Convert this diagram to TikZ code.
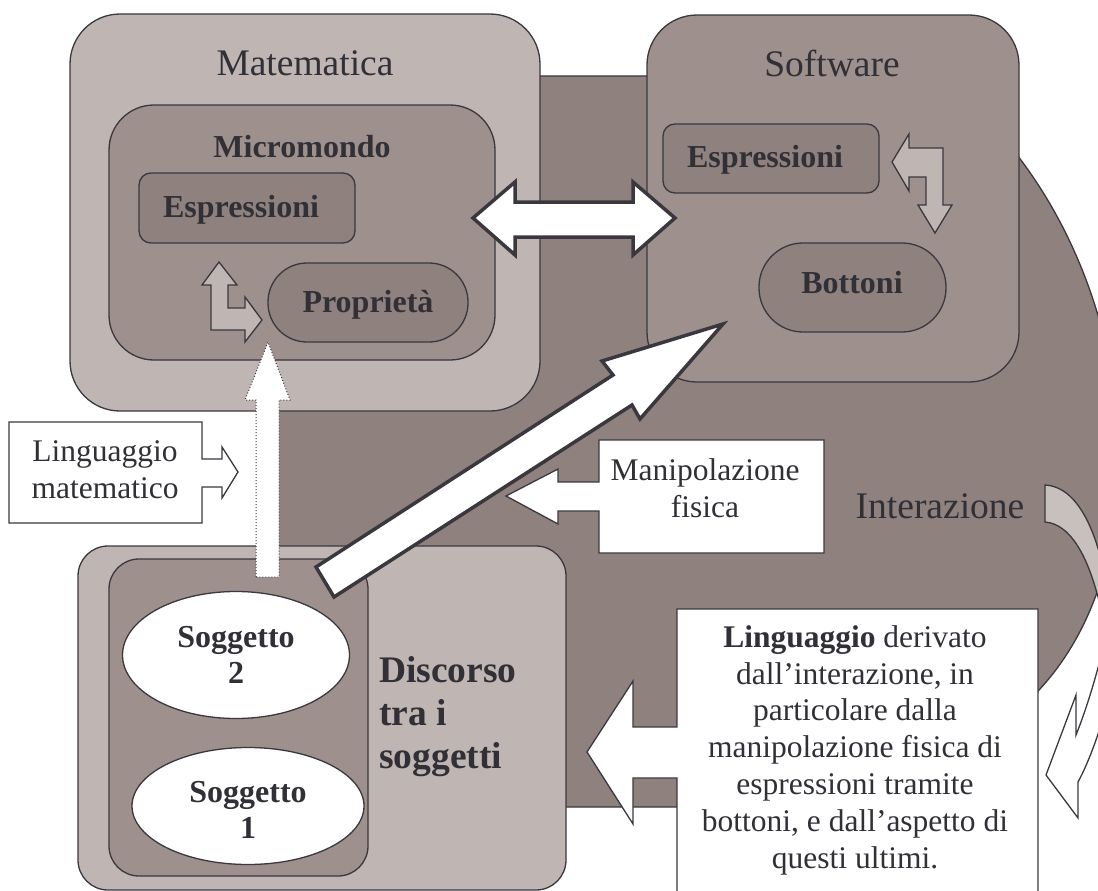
\documentclass[tikz,border=0pt]{standalone}
\usepackage{fontspec}
\setmainfont{Liberation Serif}
\usetikzlibrary{shapes.geometric}
\definecolor{lightc}{RGB}{191,181,178}
\definecolor{midc}{RGB}{158,144,140}
\definecolor{darkc}{RGB}{142,129,126}
\definecolor{bandc}{RGB}{200,192,189}
\definecolor{bordc}{RGB}{58,56,62}
\definecolor{textc}{RGB}{50,48,55}
\tikzset{
  panel/.style={draw=bordc, line width=1.3pt, rounded corners=#1, inner sep=0pt},
  bubble/.style={ellipse, draw=bordc, line width=1.3pt, fill=white, inner sep=0pt},
  thinshape/.style={draw=bordc, line width=1.3pt, line join=miter},
  fatarrow/.style={draw=bordc, line width=3.5pt, fill=white, line join=miter},
  head/.style={text=textc, inner sep=0pt, anchor=base, font=\fontsize{37.5}{44}\selectfont},
  boldlab/.style={text=textc, inner sep=0pt, anchor=base, font=\fontsize{32}{36}\selectfont\bfseries},
  body/.style={text=textc, inner sep=0pt, anchor=base, align=center, font=\fontsize{31.5}{36.8}\selectfont},
}
\begin{document}
\begin{tikzpicture}[x=1pt,y=-1pt]
\useasboundingbox (0,0) rectangle (1098,891);

% background interaction region
\fill[darkc, draw=bordc, line width=1.3pt] (270,807) -- (270,76) -- (950,76)
  .. controls (975,80) and (995,110) .. (1005,140)
  .. controls (1140,300) and (1160,560) .. (1039,690)
  .. controls (1020,720) and (1000,790) .. (960,807) -- cycle;

% Matematica
\node[panel=50pt, fill=lightc, minimum width=470pt, minimum height=397pt] (mat) at (305,212.5) {};
\node[panel=45pt, fill=midc, minimum width=386pt, minimum height=255pt] (micro) at (302,232.5) {};
\node[panel=12pt, fill=darkc, minimum width=216pt, minimum height=70pt] (espL) at (247,208) {};
\node[panel=39pt, fill=darkc, minimum width=200pt, minimum height=79pt] (prop) at (368,302.5) {};
\filldraw[thinshape, fill=lightc] (219,262) -- (237,285) -- (228,285) -- (228,308) -- (245,308)
  -- (245,297) -- (262,320) -- (245,342) -- (245,330) -- (211,330) -- (211,285) -- (202,285) -- cycle;

% Software
\node[panel=50pt, fill=midc, minimum width=372pt, minimum height=367pt] (soft) at (833,198.5) {};
\node[panel=12pt, fill=darkc, minimum width=216pt, minimum height=69pt] (espR) at (771,158.5) {};
\node[panel=44pt, fill=darkc, minimum width=187pt, minimum height=89pt] (bott) at (852.5,287.5) {};
\filldraw[thinshape, fill=lightc] (892,162) -- (909,134) -- (909,148) -- (943,148) -- (943,205)
  -- (952,205) -- (935,233) -- (918,205) -- (926,205) -- (926,177) -- (909,177) -- (909,191) -- cycle;

% double arrow Matematica <-> Software
\filldraw[fatarrow] (473,218) -- (515,182) -- (515,202) -- (633,202) -- (633,182) -- (675,218)
  -- (633,255) -- (633,237) -- (515,237) -- (515,255) -- cycle;

% Discorso
\node[panel=30pt, fill=lightc, minimum width=488pt, minimum height=344pt] (disc) at (322,718) {};
\node[panel=30pt, fill=midc, minimum width=259pt, minimum height=317pt] (discin) at (238.5,717.5) {};
\node[bubble, minimum width=227pt, minimum height=127pt] (sog2) at (236,655) {};
\node[bubble, minimum width=232pt, minimum height=117pt] (sog1) at (248,806) {};

% callouts
\filldraw[thinshape, fill=white] (9,422) -- (202,422) -- (202,459) -- (222,459) -- (222,447) -- (238,472)
  -- (222,498) -- (222,487) -- (202,487) -- (202,523) -- (9,523) -- cycle;
\filldraw[thinshape, fill=white] (599,440) -- (824,440) -- (824,553) -- (599,553) -- (599,511) -- (558,511)
  -- (558,524) -- (506,496) -- (558,469) -- (558,482) -- (599,482) -- cycle;
\filldraw[thinshape, fill=white] (677,609) -- (1038,609) -- (1038,900) -- (677,900) -- (677,778) -- (633,778)
  -- (633,824) -- (587,752) -- (633,681) -- (633,727) -- (677,727) -- cycle;

% Interazione curved arrow
\filldraw[thinshape, fill=bandc] (1045,485) .. controls (1078,487) and (1098,530) .. (1110,600)
  -- (1100,605) .. controls (1088,555) and (1070,524) .. (1045,522) -- cycle;
\filldraw[thinshape, fill=white] (1046,775) -- (1076,695) -- (1076,735)
  .. controls (1088,705) and (1098,670) .. (1105,640) -- (1112,690)
  .. controls (1100,730) and (1090,760) .. (1078,782) -- (1078,818) -- cycle;

% diagonal arrow Discorso -> Software
\filldraw[fatarrow] (316,567) -- (613,375) -- (602,361) -- (723,324) -- (640,419) -- (632,405) -- (334,597) -- cycle;

% dotted arrow Discorso -> Matematica
\filldraw[draw=bordc, fill=white, line width=1pt, dotted] (256,577) -- (256,400) -- (245,400) -- (268,342)
  -- (290,400) -- (279,400) -- (279,577) -- cycle;

% texts (multi-line nodes: base = baseline of last line)
\node[head] (tmat) at (305,75) {Matematica};
\node[head] (tsoft) at (832,77) {Software};
\node[head] (tint) at (940,518) {Interazione};
\node[boldlab] (tmicro) at (302,157) {Micromondo};
\node[boldlab] (tespL) at (241,217) {Espressioni};
\node[boldlab] (tespR) at (765,167) {Espressioni};
\node[boldlab] (tprop) at (368,312) {Proprietà};
\node[boldlab] (tbott) at (852,293) {Bottoni};
\node[boldlab, align=center] (tsog2) at (236,683) {Soggetto\\2};
\node[boldlab, align=center] (tsog1) at (248,838) {Soggetto\\1};
\node[text=textc, inner sep=0pt, anchor=base west, align=left, font=\fontsize{37.5}{43}\selectfont\bfseries] (tdisc) at (379,768) {Discorso\\tra i\\soggetti};
\node[body] (tlm) at (105,498) {Linguaggio\\matematico};
\node[body] (tman) at (705,517) {Manipolazione\\fisica};
\node[body] (tlin) at (855,868) {\textbf{Linguaggio} derivato\\dall'interazione, in\\particolare dalla\\manipolazione fisica di\\espressioni tramite\\bottoni, e dall'aspetto di\\questi ultimi.};
\end{tikzpicture}
\end{document}
